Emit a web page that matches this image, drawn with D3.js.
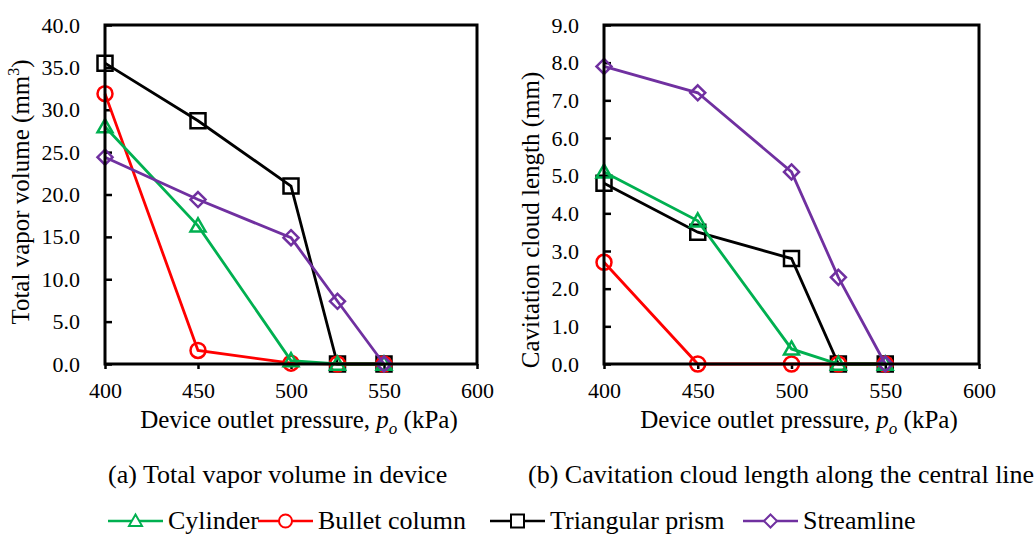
<!DOCTYPE html>
<html>
  <head>
    <script src="https://d3js.org/d3.v7.min.js"></script>
    <style>
      body { margin: 0; background: #fff; }
      svg text { font-family: "Liberation Serif", "Times New Roman", serif; fill: #000; }
      .tick text { font-size: 22px; }
      .tick line { stroke: #000; stroke-width: 2.5px; }
    </style>
  </head>
  <body>
    <svg id="chart" width="1034" height="535"></svg>

    <script>
      // values
      const pressure = [400, 450, 500, 525, 550];
      const seriesNames = ["Cylinder", "Bullet column", "Triangular prism", "Streamline"];
      const seriesColors = ["#00b050", "#ff0000", "#000000", "#7030a0"];
      const seriesShapes = ["triangle", "circle", "square", "diamond"];

      const volCylinder = [28.0, 16.3, 0.4, 0, 0];
      const volBullet = [31.9, 1.6, 0.1, 0, 0];
      const volTriangular = [35.5, 28.7, 21.0, 0, 0];
      const volStreamline = [24.4, 19.4, 14.9, 7.4, 0];

      const lenCylinder = [5.1, 3.8, 0.4, 0, 0];
      const lenBullet = [2.7, 0, 0, 0, 0];
      const lenTriangular = [4.8, 3.5, 2.8, 0, 0];
      const lenStreamline = [7.9, 7.2, 5.1, 2.3, 0];

      const xTicks = [400, 450, 500, 550, 600];
      const volTicks = d3.range(0, 40.1, 5);
      const lenTicks = d3.range(0, 9.1, 1);

      const svg = d3.select("#chart");

      // marker outline centred on 0,0
      function markerPath(shape, s) {
        const h = s / 2;
        if (shape == "square") return `M${-h},${-h}H${h}V${h}H${-h}Z`;
        if (shape == "diamond") return `M0,${-h}L${h},0L0,${h}L${-h},0Z`;
        if (shape == "triangle") return `M0,${-h}L${h},${h * 0.75}L${-h},${h * 0.75}Z`;
        return d3.arc()({innerRadius: 0, outerRadius: h, startAngle: 0, endAngle: 2 * Math.PI});
      }

      function drawPanel(p) {
        const x = d3.scaleLinear().domain([400, 600]).range([p.left, p.right]);
        const y = d3.scaleLinear().domain([0, p.yMax]).range([364, 25]);
        const g = svg.append("g");

        g.append("g")
          .attr("transform", `translate(0,364)`)
          .call(d3.axisBottom(x).tickValues(xTicks).tickSize(5).tickPadding(13))
          .call(a => a.select(".domain").remove());

        g.append("g")
          .attr("transform", `translate(${p.left},0)`)
          .call(d3.axisLeft(y).tickValues(p.yTicks).tickFormat(d3.format(".1f")).tickSize(-7).tickPadding(25))
          .call(a => a.select(".domain").remove());

        // drawing order so the hollow markers overlap like the original
        const order = [2, 1, 0, 3];
        order.forEach(i => {
          const vals = p.series[i];
          const pts = pressure.map((v, j) => [x(v), y(vals[j])]);
          g.append("path")
            .attr("d", d3.line()(pts))
            .attr("fill", "none")
            .attr("stroke", seriesColors[i])
            .attr("stroke-width", 2.8);
          g.selectAll(null)
            .data(pts)
            .join("path")
              .attr("transform", d => `translate(${d[0]},${d[1]})`)
              .attr("d", markerPath(seriesShapes[i], 15))
              .attr("fill", "none")
              .attr("stroke", seriesColors[i])
              .attr("stroke-width", 2.5);
        });

        g.append("rect")
          .attr("x", p.left).attr("y", 25)
          .attr("width", p.right - p.left).attr("height", 339)
          .attr("fill", "none").attr("stroke", "#000").attr("stroke-width", 3);

        // axis titles
        const xt = g.append("text")
          .attr("x", p.xTitleX).attr("y", 428)
          .attr("text-anchor", "middle")
          .style("font-size", "25px");
        xt.append("tspan").text("Device outlet pressure, ");
        xt.append("tspan").style("font-style", "italic").text("p");
        xt.append("tspan").style("font-style", "italic").style("font-size", "17px").attr("dy", 6).text("o");
        xt.append("tspan").attr("dy", -6).text(" (kPa)");

        const yt = g.append("text")
          .attr("transform", `translate(${p.yTitleX},${p.yTitleY}) rotate(-90)`)
          .attr("text-anchor", "middle")
          .style("font-size", "25px");
        yt.append("tspan").text(p.yTitle);
        if (p.sup) {
          yt.append("tspan").style("font-size", "16px").attr("dy", -10).text(p.sup);
          yt.append("tspan").attr("dy", 10).text(")");
        }

        svg.append("text")
          .attr("x", p.capX).attr("y", 483)
          .style("font-size", "26px")
          .text(p.caption);
      }

      drawPanel({
        left: 105, right: 477, yMax: 40, yTicks: volTicks,
        series: [volCylinder, volBullet, volTriangular, volStreamline],
        xTitleX: 299, yTitleX: 29, yTitleY: 192,
        yTitle: "Total vapor volume (mm", sup: "3",
        capX: 108, caption: "(a) Total vapor volume in device"
      });

      drawPanel({
        left: 604, right: 979, yMax: 9, yTicks: lenTicks,
        series: [lenCylinder, lenBullet, lenTriangular, lenStreamline],
        xTitleX: 799, yTitleX: 539, yTitleY: 220,
        yTitle: "Cavitation cloud length (mm)", sup: null,
        capX: 528, caption: "(b) Cavitation cloud length along the central line"
      });

      // legend
      const legendX = [108, 258, 490, 743];
      const legend = svg.append("g");
      seriesNames.forEach((name, i) => {
        const lx = legendX[i];
        legend.append("line")
          .attr("x1", lx).attr("x2", lx + 55)
          .attr("y1", 521).attr("y2", 521)
          .attr("stroke", seriesColors[i]).attr("stroke-width", 2.5);
        legend.append("path")
          .attr("transform", `translate(${lx + 27.5},521)`)
          .attr("d", markerPath(seriesShapes[i], 13))
          .attr("fill", "#fff")
          .attr("stroke", seriesColors[i]).attr("stroke-width", 2);
        legend.append("text")
          .attr("x", lx + 60).attr("y", 529)
          .style("font-size", "26px")
          .text(name);
      });
    </script>
  </body>
</html>
